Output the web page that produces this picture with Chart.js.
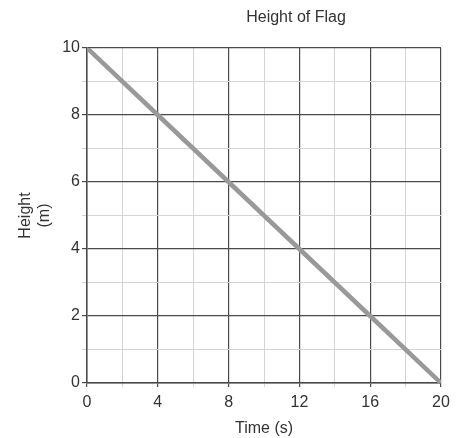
<!DOCTYPE html>
<html>
<head>
<meta charset="utf-8">
<script src="https://cdn.jsdelivr.net/npm/chart.js@4/dist/chart.umd.min.js"></script>
<style>
  html, body { margin: 0; padding: 0; background: #fff; }
  #wrap { width: 466px; height: 438px; }
</style>
</head>
<body>
<div id="wrap"><canvas id="chart"></canvas></div>
<script>
// data
var times = [0, 4, 8, 12, 16, 20];
var heights = [10, 8, 6, 4, 2, 0];
var chartTitle = 'Height of Flag';
var xLabel = 'Time (s)';
var yLabel = ['Height', '(m)'];

var points = times.map(function(t, i) {
  return { x: t, y: heights[i] };
});

var MAJOR = '#4a4a4a';
var MINOR = '#d4d4d4';

// title sits off-centre in the reference, so draw it by hand
var titlePlugin = {
  id: 'flagTitle',
  afterDraw: function(chart) {
    var ctx = chart.ctx;
    ctx.save();
    ctx.font = '16px "Liberation Sans", Arial, sans-serif';
    ctx.fillStyle = '#333';
    ctx.textAlign = 'center';
    ctx.textBaseline = 'middle';
    ctx.fillText(chartTitle, 296, 18);
    ctx.restore();
  }
};

var tickFont = { family: '"Liberation Sans", Arial, sans-serif', size: 16 };
var labelFont = { family: '"Liberation Sans", Arial, sans-serif', size: 16 };

new Chart(document.getElementById('chart'), {
  type: 'line',
  data: {
    datasets: [{
      data: points,
      borderColor: '#999',
      borderWidth: 4.5,
      pointRadius: 0,
      fill: false,
      tension: 0
    }]
  },
  options: {
    responsive: true,
    maintainAspectRatio: false,
    animation: false,
    layout: { padding: { left: 0, right: 25, top: 48, bottom: 0 } },
    plugins: {
      legend: { display: false },
      tooltip: { enabled: false }
    },
    scales: {
      x: {
        type: 'linear',
        min: 0,
        max: 20,
        ticks: {
          stepSize: 2,
          color: '#333',
          font: tickFont,
          padding: 6,
          maxRotation: 0,
          callback: function(v) { return v % 4 === 0 ? v : ''; }
        },
        grid: {
          color: function(c) { return c.tick && c.tick.value % 4 === 0 ? MAJOR : MINOR; },
          lineWidth: function(c) { return c.tick && c.tick.value % 4 === 0 ? 1.2 : 1; },
          tickLength: 4
        },
        border: { color: MAJOR, width: 1.5 },
        title: { display: true, text: xLabel, color: '#333', font: labelFont, padding: { top: 10, bottom: 0 } },
        afterFit: function(scale) { scale.height = 55; }
      },
      y: {
        min: 0,
        max: 10,
        ticks: {
          stepSize: 1,
          color: '#333',
          font: tickFont,
          padding: 2,
          callback: function(v) { return v % 2 === 0 ? v : ''; }
        },
        grid: {
          color: function(c) { return c.tick && c.tick.value % 2 === 0 ? MAJOR : MINOR; },
          lineWidth: function(c) { return c.tick && c.tick.value % 2 === 0 ? 1.2 : 1; },
          tickLength: 5
        },
        border: { color: MAJOR, width: 1.5 },
        title: { display: true, text: yLabel, color: '#333', font: labelFont, padding: { top: 16, bottom: 0 } },
        afterFit: function(scale) { scale.width = 87; }
      }
    }
  },
  plugins: [titlePlugin]
});
</script>
</body>
</html>
